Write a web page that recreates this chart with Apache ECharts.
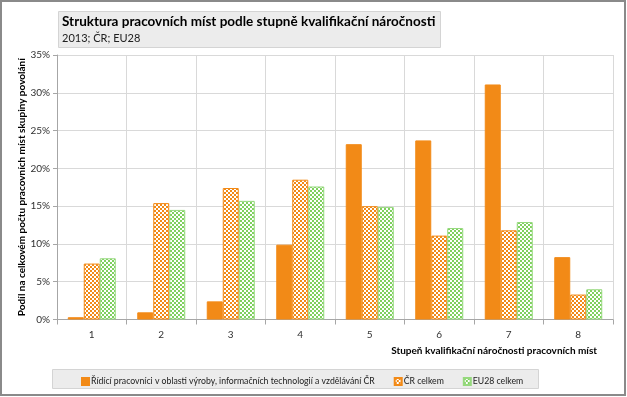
<!DOCTYPE html>
<html>
<head>
<meta charset="utf-8">
<script src="https://cdn.jsdelivr.net/npm/echarts@6/dist/echarts.min.js"></script>
<style>
  html, body { margin: 0; padding: 0; background: #fff; }
  #chart { width: 627px; height: 397px; }
</style>
</head>
<body>
<div id="chart"></div>
<script>
(function (echarts) {
  "use strict";

  var categories = ['1', '2', '3', '4', '5', '6', '7', '8'];
  var ridici = [0.3, 0.95, 2.4, 9.9, 23.2, 23.7, 31.1, 8.25];
  var crCelkem = [7.4, 15.4, 17.4, 18.5, 15.0, 11.1, 11.8, 3.3];
  var eu28Celkem = [8.1, 14.5, 15.7, 17.6, 14.9, 12.1, 12.9, 4.0];
  var seriesNames = [
    'Řídící pracovníci v oblasti výroby, informačních technologií a vzdělávání ČR',
    'ČR celkem',
    'EU28 celkem'
  ];

  var FONT = 'Lato';
  var ORANGE = '#f28a17';
  var GREEN = '#7fd05f';

  // small checkerboard fill like the Excel pattern
  function checker(color) {
    var c = document.createElement('canvas');
    c.width = 4;
    c.height = 4;
    var ctx = c.getContext('2d');
    ctx.fillStyle = '#ffffff';
    ctx.fillRect(0, 0, 4, 4);
    ctx.fillStyle = color;
    ctx.fillRect(0, 0, 2, 2);
    ctx.fillRect(2, 2, 2, 2);
    return { image: c, repeat: 'repeat' };
  }

  var chart = echarts.init(document.getElementById('chart'), null, { renderer: 'canvas' });

  chart.setOption({
    animation: false,
    backgroundColor: '#ffffff',
    textStyle: { fontFamily: FONT },
    grid: { left: 57, right: 14, top: 55, bottom: 77.5, containLabel: false },
    legend: {
      left: 76,
      top: 372,
      itemWidth: 7,
      itemHeight: 7,
      itemGap: 19,
      icon: 'rect',
      textStyle: { fontFamily: FONT, fontSize: 8.7, color: '#202020', padding: [0, 0, 0, -3] },
      data: seriesNames
    },
    xAxis: {
      type: 'category',
      data: categories,
      axisLine: { lineStyle: { color: '#a6a6a6', width: 1 } },
      axisTick: { show: true, length: 5, lineStyle: { color: '#a6a6a6' } },
      axisLabel: { color: '#303030', fontSize: 10, fontFamily: FONT, margin: 10 },
      splitLine: { show: true, lineStyle: { color: '#d9d9d9', width: 1 } }
    },
    yAxis: {
      type: 'value',
      min: 0,
      max: 35,
      interval: 5,
      name: 'Podíl na celkovém počtu pracovních míst skupiny povolání',
      nameLocation: 'middle',
      nameRotate: 90,
      nameGap: 30,
      nameMoveOverlap: false,
      nameTextStyle: { fontFamily: FONT, fontSize: 10, fontWeight: 'bold', color: '#000' },
      axisLine: { show: true, lineStyle: { color: '#a6a6a6', width: 1 } },
      axisTick: { show: true, length: 4, lineStyle: { color: '#a6a6a6' } },
      axisLabel: { formatter: '{value}%', color: '#303030', fontSize: 10, fontFamily: FONT, margin: 7 },
      splitLine: { show: true, lineStyle: { color: '#d9d9d9', width: 1 } }
    },
    series: [
      {
        name: seriesNames[0],
        type: 'bar',
        data: ridici,
        barWidth: 16,
        barGap: '0%',
        itemStyle: { color: ORANGE, borderColor: ORANGE, borderWidth: 1 }
      },
      {
        name: seriesNames[1],
        type: 'bar',
        data: crCelkem,
        barWidth: 16,
        barGap: '0%',
        itemStyle: { color: checker(ORANGE), borderColor: ORANGE, borderWidth: 1 }
      },
      {
        name: seriesNames[2],
        type: 'bar',
        data: eu28Celkem,
        barWidth: 16,
        barGap: '0%',
        itemStyle: { color: checker(GREEN), borderColor: '#96d97e', borderWidth: 1 }
      }
    ],
    graphic: [
      {
        type: 'rect', z: -1, silent: true,
        shape: { x: 1, y: 1, width: 624, height: 394 },
        style: { fill: 'none', stroke: '#8a8a8a', lineWidth: 2 }
      },
      {
        type: 'rect', z: -1, silent: true,
        shape: { x: 58.5, y: 11.5, width: 382, height: 36 },
        style: { fill: '#ececec', stroke: '#d4d4d4', lineWidth: 1 }
      },
      {
        type: 'text', silent: true, left: 62, top: 15,
        style: { text: 'Struktura pracovních míst podle stupně kvalifikační náročnosti', fontFamily: FONT, fontSize: 13.5, fontWeight: 'bold', fill: '#000' }
      },
      {
        type: 'text', silent: true, left: 62, top: 33,
        style: { text: '2013; ČR; EU28', fontFamily: FONT, fontSize: 11, fill: '#202020' }
      },
      {
        type: 'rect', z: -1, silent: true,
        shape: { x: 52.5, y: 369.5, width: 486, height: 19 },
        style: { fill: '#ececec', stroke: '#d4d4d4', lineWidth: 1 }
      },
      {
        type: 'text', silent: true, right: 30, top: 346,
        style: { text: 'Stupeň kvalifikační náročnosti pracovních míst', fontFamily: FONT, fontSize: 10, fontWeight: 'bold', fill: '#000' }
      }
    ]
  });
})(echarts);
</script>
</body>
</html>
